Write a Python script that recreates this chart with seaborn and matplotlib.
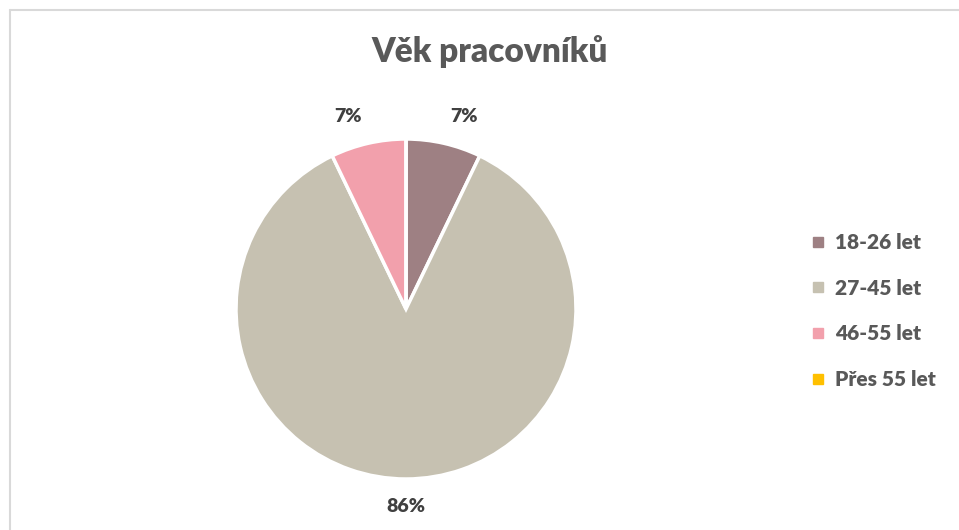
import numpy as np
import matplotlib
matplotlib.use("Agg")
import matplotlib.pyplot as plt
from matplotlib.lines import Line2D
import seaborn as sns

# Worker counts per age group
categories = ["18-26 let", "27-45 let", "46-55 let", "Přes 55 let"]
counts = [1, 12, 1, 0]
colors = ["#9E8083", "#C6C1B1", "#F2A0AC", "#FFC000"]
title = "Věk pracovníků"

sns.set_theme(style="white")
plt.rcParams["font.family"] = ["Lato", "DejaVu Sans"]
palette = sns.color_palette(colors)

W, H = 959, 530
fig = plt.figure(figsize=(W / 100, H / 100), dpi=100)
fig.patch.set_facecolor("white")

# Chart frame (left and top edges visible)
fig.add_artist(Line2D([10 / W, 10 / W], [0, 1 - 10 / H], color="#D9D9D9", lw=1.5))
fig.add_artist(Line2D([10 / W, 1], [1 - 10 / H, 1 - 10 / H], color="#D9D9D9", lw=1.5))

# Pie axes: centre (406, 309), radius 170 px
cx, cy, r = 406, 309, 170
ax = fig.add_axes([(cx - r) / W, (H - cy - r) / H, 2 * r / W, 2 * r / H])

total = sum(counts)
wedges, _ = ax.pie(counts, colors=palette, startangle=90, counterclock=False,
                   radius=1.0, wedgeprops=dict(edgecolor="white", linewidth=2.5))
ax.set_xlim(-1, 1)
ax.set_ylim(-1, 1)
ax.set_aspect("auto")
ax.axis("off")

# Percentage labels outside each non-empty wedge
for w, v in zip(wedges, counts):
    if v == 0:
        continue
    mid = np.deg2rad((w.theta1 + w.theta2) / 2)
    d = 1.16
    x, y = d * np.cos(mid), d * np.sin(mid)
    if abs(np.cos(mid)) < 0.05:
        ha = "center"
    else:
        ha = "left" if np.cos(mid) > 0 else "right"
    ax.text(x, y, f"{round(100 * v / total)}%", ha=ha, va="center",
            fontsize=14, fontweight="heavy", color="#404040", clip_on=False)

fig.text(490 / W, 1 - 52 / H, title, ha="center", va="center",
         fontsize=24, fontweight="heavy", color="#595959")

handles = [Line2D([], [], marker="s", linestyle="none", markersize=6.5,
                  markerfacecolor=c, markeredgecolor=c) for c in palette]
fig.legend(handles, categories, loc="upper left",
           bbox_to_anchor=(808 / W, 1 - 233 / H), frameon=False,
           prop=dict(size=15, weight="heavy"), labelcolor="#595959",
           handletextpad=0.3, handlelength=1.0, labelspacing=1.28,
           borderaxespad=0, borderpad=0)

fig.savefig("out.png", dpi=100, facecolor="white")
